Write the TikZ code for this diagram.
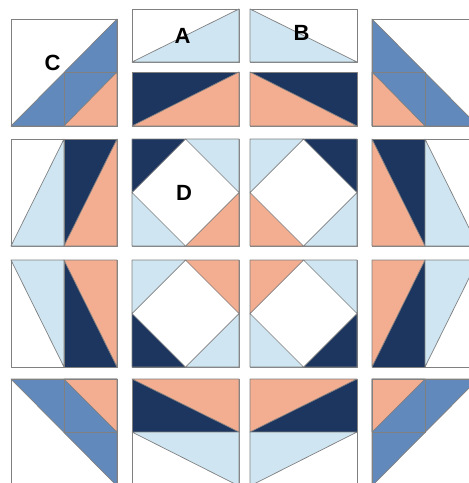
\documentclass[tikz,border=0pt]{standalone}
\usepackage{fontspec}
\setmainfont{Liberation Sans}
\definecolor{navy}{HTML}{1D3660}
\definecolor{salmon}{HTML}{F3AE91}
\definecolor{lblue}{HTML}{CFE5F2}
\definecolor{mblue}{HTML}{6189BC}
\definecolor{edge}{HTML}{808080}
\tikzset{
  pc/.style={draw=edge, line width=0.7pt, line join=round},
  lbl/.style={font=\fontsize{22}{22}\selectfont\bfseries, text=black, inner sep=0pt}
}
\begin{document}
\begin{tikzpicture}[x=1pt,y=-1pt]
\useasboundingbox (0,0) rectangle (469,483);
\fill[white] (0,0) rectangle (469,483);
\clip (0,0) rectangle (469,483);

% ---------- Row 1 ----------
% C block
\filldraw[pc, fill=white] (11,19) rectangle (117,126);
\filldraw[pc, fill=mblue] (11,126) -- (117,19) -- (117,126) -- cycle;
\filldraw[pc, fill=salmon] (64,126) -- (117,72) -- (117,126) -- cycle;
\draw[pc] (64,126) -- (64,72) -- (117,72);
\draw[pc] (11,19) rectangle (117,126);
% A block
\filldraw[pc, fill=white] (132,9) rectangle (239,62);
\filldraw[pc, fill=lblue] (132,62) -- (239,9) -- (239,62) -- cycle;
\filldraw[pc, fill=navy] (132,72) rectangle (239,126);
\filldraw[pc, fill=salmon] (132,126) -- (239,72) -- (239,126) -- cycle;
% B block
\filldraw[pc, fill=white] (250,9) rectangle (357,62);
\filldraw[pc, fill=lblue] (250,9) -- (357,62) -- (250,62) -- cycle;
\filldraw[pc, fill=navy] (250,72) rectangle (357,126);
\filldraw[pc, fill=salmon] (250,72) -- (357,126) -- (250,126) -- cycle;
% right corner block
\filldraw[pc, fill=white] (372,19) rectangle (478,126);
\filldraw[pc, fill=mblue] (372,19) -- (478,126) -- (372,126) -- cycle;
\filldraw[pc, fill=salmon] (372,72) -- (425,126) -- (372,126) -- cycle;
\draw[pc] (372,72) -- (425,72) -- (425,126);
\draw[pc] (372,19) rectangle (478,126);

% ---------- Row 2 ----------
\filldraw[pc, fill=white] (11,139) rectangle (64,246);
\filldraw[pc, fill=lblue] (11,246) -- (64,139) -- (64,246) -- cycle;
\filldraw[pc, fill=navy] (64,139) rectangle (117,246);
\filldraw[pc, fill=salmon] (64,246) -- (117,139) -- (117,246) -- cycle;
% D block
\filldraw[pc, fill=white] (132,139) rectangle (239,246);
\filldraw[pc, fill=navy] (132,139) -- (185.5,139) -- (132,192.5) -- cycle;
\filldraw[pc, fill=lblue] (185.5,139) -- (239,139) -- (239,192.5) -- cycle;
\filldraw[pc, fill=lblue] (132,192.5) -- (132,246) -- (185.5,246) -- cycle;
\filldraw[pc, fill=salmon] (239,192.5) -- (239,246) -- (185.5,246) -- cycle;
\filldraw[pc, fill=white] (250,139) rectangle (357,246);
\filldraw[pc, fill=lblue] (250,139) -- (303.5,139) -- (250,192.5) -- cycle;
\filldraw[pc, fill=navy] (303.5,139) -- (357,139) -- (357,192.5) -- cycle;
\filldraw[pc, fill=salmon] (250,192.5) -- (250,246) -- (303.5,246) -- cycle;
\filldraw[pc, fill=lblue] (357,192.5) -- (357,246) -- (303.5,246) -- cycle;
\filldraw[pc, fill=navy] (372,139) rectangle (425,246);
\filldraw[pc, fill=salmon] (372,139) -- (425,246) -- (372,246) -- cycle;
\filldraw[pc, fill=white] (425,139) rectangle (478,246);
\filldraw[pc, fill=lblue] (425,139) -- (478,246) -- (425,246) -- cycle;

% ---------- Row 3 ----------
\filldraw[pc, fill=white] (11,260) rectangle (64,367);
\filldraw[pc, fill=lblue] (11,260) -- (64,260) -- (64,367) -- cycle;
\filldraw[pc, fill=navy] (64,260) rectangle (117,367);
\filldraw[pc, fill=salmon] (64,260) -- (117,260) -- (117,367) -- cycle;
\filldraw[pc, fill=white] (132,260) rectangle (239,367);
\filldraw[pc, fill=lblue] (132,260) -- (185.5,260) -- (132,313.5) -- cycle;
\filldraw[pc, fill=salmon] (185.5,260) -- (239,260) -- (239,313.5) -- cycle;
\filldraw[pc, fill=navy] (132,313.5) -- (132,367) -- (185.5,367) -- cycle;
\filldraw[pc, fill=lblue] (239,313.5) -- (239,367) -- (185.5,367) -- cycle;
\filldraw[pc, fill=white] (250,260) rectangle (357,367);
\filldraw[pc, fill=salmon] (250,260) -- (303.5,260) -- (250,313.5) -- cycle;
\filldraw[pc, fill=lblue] (303.5,260) -- (357,260) -- (357,313.5) -- cycle;
\filldraw[pc, fill=lblue] (250,313.5) -- (250,367) -- (303.5,367) -- cycle;
\filldraw[pc, fill=navy] (357,313.5) -- (357,367) -- (303.5,367) -- cycle;
\filldraw[pc, fill=navy] (372,260) rectangle (425,367);
\filldraw[pc, fill=salmon] (372,260) -- (425,260) -- (372,367) -- cycle;
\filldraw[pc, fill=white] (425,260) rectangle (478,367);
\filldraw[pc, fill=lblue] (425,260) -- (478,260) -- (425,367) -- cycle;

% ---------- Row 4 ----------
\filldraw[pc, fill=white] (11,379) rectangle (117,486);
\filldraw[pc, fill=mblue] (11,379) -- (117,379) -- (117,486) -- cycle;
\filldraw[pc, fill=salmon] (64,379) -- (117,379) -- (117,432) -- cycle;
\draw[pc] (64,379) -- (64,432) -- (117,432);
\draw[pc] (11,379) rectangle (117,486);
\filldraw[pc, fill=navy] (132,379) rectangle (239,432);
\filldraw[pc, fill=salmon] (132,379) -- (239,379) -- (239,432) -- cycle;
\filldraw[pc, fill=white] (132,432) rectangle (239,486);
\filldraw[pc, fill=lblue] (132,432) -- (239,432) -- (239,486) -- cycle;
\filldraw[pc, fill=navy] (250,379) rectangle (357,432);
\filldraw[pc, fill=salmon] (250,379) -- (357,379) -- (250,432) -- cycle;
\filldraw[pc, fill=white] (250,432) rectangle (357,486);
\filldraw[pc, fill=lblue] (250,432) -- (357,432) -- (250,486) -- cycle;
\filldraw[pc, fill=white] (372,379) rectangle (478,486);
\filldraw[pc, fill=mblue] (372,379) -- (478,379) -- (372,486) -- cycle;
\filldraw[pc, fill=salmon] (372,379) -- (425,379) -- (372,432) -- cycle;
\draw[pc] (425,379) -- (425,432) -- (372,432);
\draw[pc] (372,379) rectangle (478,486);

% ---------- Labels ----------
\node[lbl] (labA) at (182.5,35.5) {A};
\node[lbl] (labB) at (301.5,32.5) {B};
\node[lbl] (labC) at (52.5,62.5) {C};
\node[lbl] (labD) at (184,193) {D};
\end{tikzpicture}
\end{document}
